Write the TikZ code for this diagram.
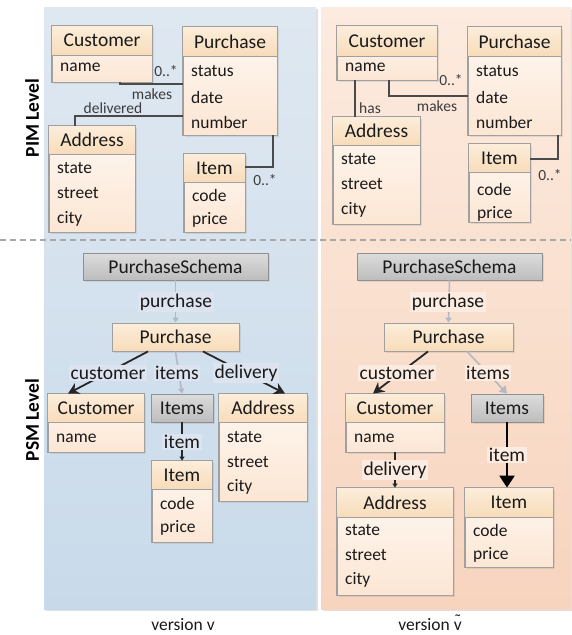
\documentclass[tikz,border=0pt]{standalone}
\usepackage{fontspec}
\setmainfont{Carlito}
\usetikzlibrary{arrows.meta,shadows}
\definecolor{bluetop}{HTML}{DFE8F1}
\definecolor{bluebot}{HTML}{C8DAEA}
\definecolor{orgtop}{HTML}{FCEBDF}
\definecolor{orgbot}{HTML}{F7D4BE}
\definecolor{headtop}{HTML}{FCEDDA}
\definecolor{headbot}{HTML}{F8DCBA}
\definecolor{bodytop}{HTML}{FEF8F2}
\definecolor{bodybot}{HTML}{FCE6D4}
\definecolor{graytop}{HTML}{DCDCDC}
\definecolor{graybot}{HTML}{BDBDBD}
\definecolor{boxline}{HTML}{A0A0A0}
\definecolor{assoccol}{HTML}{4A4A4A}
\definecolor{lightcol}{HTML}{B2B8C4}
\definecolor{lblblue}{HTML}{DDE4EF}
\definecolor{lblorg}{HTML}{FCEBE0}
\definecolor{dashcol}{HTML}{A8A8A8}
\definecolor{txt}{HTML}{1A1A1A}
\newcommand\tildev{{\ooalign{v\cr\hidewidth\raisebox{0.28em}{\char"02DC}\hidewidth\cr}}}
\tikzset{
  boxbase/.style={draw=boxline, line width=0.9pt, top color=bodytop, bottom color=bodybot,
    inner sep=0pt, drop shadow={opacity=0.18, shadow xshift=1.5pt, shadow yshift=-1.5pt}},
  orgbox/.style={draw=boxline, line width=0.9pt, top color=headtop, bottom color=headbot,
    inner sep=0pt, text=txt, font=\fontsize{19.5}{22}\selectfont,
    drop shadow={opacity=0.18, shadow xshift=1.5pt, shadow yshift=-1.5pt}},
  graybox/.style={draw=boxline!90!black, line width=0.9pt, top color=graytop, bottom color=graybot,
    inner sep=0pt, text=txt, font=\fontsize{19.5}{22}\selectfont,
    drop shadow={opacity=0.18, shadow xshift=1.5pt, shadow yshift=-1.5pt}},
  boxedge/.style={draw=boxline, line width=0.9pt},
  titletext/.style={inner sep=0pt, text=txt, font=\fontsize{19.5}{22}\selectfont},
  attrtext/.style={anchor=west, inner sep=0pt, text=txt, font=\fontsize{17.5}{20}\selectfont},
  pimlbl/.style={inner sep=0pt, text=txt!85, font=\fontsize{15.5}{18}\selectfont},
  psmlbl/.style={inner sep=1.5pt, fill=#1, text=txt, font=\fontsize{19.5}{22}\selectfont},
  assoc/.style={draw=assoccol, line width=1.8pt},
  lightedge/.style={draw=lightcol, line width=1.6pt, -{Triangle[length=5pt,width=6pt]}},
  lightedgeB/.style={draw=lightcol, line width=1.6pt, -{Triangle[length=7pt,width=9pt]}},
  bigedge/.style={draw=black!85, line width=1.8pt, -{Stealth[length=11pt,width=12pt]}},
  smalledge/.style={draw=black!85, line width=1.6pt, -{Triangle[length=4pt,width=5pt]}},
  heavyedge/.style={draw=black, line width=2.6pt, -{Triangle[length=12pt,width=15pt]}},
  levellbl/.style={rotate=90, inner sep=0pt, text=black, font=\bfseries\fontsize{19.5}{22}\selectfont},
  verlbl/.style={inner sep=0pt, text=txt, font=\fontsize{17.5}{20}\selectfont},
}
\newcommand\umlclass[7]{%
  \node[boxbase, minimum width={(#4)-(#2)}, minimum height={(#5)-(#3)}] (#1) at ({((#2)+(#4))/2},{((#3)+(#5))/2}) {};
  \shade[top color=headtop, bottom color=headbot] (#2,#3) rectangle (#4,#6);
  \draw[boxedge] (#2,#6) -- (#4,#6);
  \draw[boxedge] (#1.north west) rectangle (#1.south east);
  \node[titletext] (#1T) at ({((#2)+(#4))/2},{((#3)+(#6))/2}) {#7};
}
\newcommand\hdrbox[7]{%
  \node[#6, minimum width={(#4)-(#2)}, minimum height={(#5)-(#3)}] (#1) at ({((#2)+(#4))/2},{((#3)+(#5))/2}) {#7};
}
\begin{document}
\begin{tikzpicture}[x=1pt,y=-1pt]
\useasboundingbox (0,0) rectangle (571,635);
% panels
\fill[black, opacity=0.12] (46,9) rectangle (318,611);
\fill[black, opacity=0.12] (323,9) rectangle (573,611);
\shade[top color=bluetop, bottom color=bluebot] (44,7) rectangle (316,609);
\shade[top color=orgtop, bottom color=orgbot] (321,7) rectangle (571,609);
\draw[dashcol, line width=1.8pt, dash pattern=on 6pt off 4pt] (0,240) -- (571,240);
% level labels
\node[levellbl] (pim) at (32,118) {PIM Level};
\node[levellbl] (psm) at (32,420) {PSM Level};
% ---------- PIM left
\umlclass{lcust}{52}{26}{152}{82}{55}{Customer}
\node[attrtext] (lcust1) at (60,67) {name};
\umlclass{lpur}{183}{27}{277}{135}{56}{Purchase}
\node[attrtext] (lpur1) at (191,71) {status};
\node[attrtext] (lpur2) at (191,97) {date};
\node[attrtext] (lpur3) at (191,122) {number};
\umlclass{laddr}{49}{126}{135}{232}{154}{Address}
\node[attrtext] (laddr1) at (57,168) {state};
\node[attrtext] (laddr2) at (57,193) {street};
\node[attrtext] (laddr3) at (57,219) {city};
\umlclass{litem}{184}{154}{245}{232}{182}{Item}
\node[attrtext] (litem1) at (192,195) {code};
\node[attrtext] (litem2) at (192,220) {price};
\draw[assoc] ([xshift=18pt]lcust.south) |- ([yshift=-3pt]lpur.west);
\draw[assoc] ([yshift=-35pt]lpur.west) -| ([xshift=-17pt]laddr.north);
\draw[assoc] ([xshift=43pt]lpur.south) |- ([yshift=26pt]litem.east);
\node[pimlbl] (lm1) at (166,71) {0..*};
\node[pimlbl] (lm2) at (152,94) {makes};
\node[pimlbl] (lm3) at (113,108) {delivered};
\node[pimlbl] (lm4) at (265,180) {0..*};
% ---------- PIM right
\umlclass{rcust}{337}{26}{437}{80}{56}{Customer}
\node[attrtext] (rcust1) at (345,67) {name};
\umlclass{rpur}{468}{27}{561}{135}{56}{Purchase}
\node[attrtext] (rpur1) at (476,71) {status};
\node[attrtext] (rpur2) at (476,97) {date};
\node[attrtext] (rpur3) at (476,122) {number};
\umlclass{raddr}{333}{117}{420}{224}{145}{Address}
\node[attrtext] (raddr1) at (341,159) {state};
\node[attrtext] (raddr2) at (341,184) {street};
\node[attrtext] (raddr3) at (341,210) {city};
\umlclass{ritem}{469}{144}{530}{222}{172}{Item}
\node[attrtext] (ritem1) at (477,189) {code};
\node[attrtext] (ritem2) at (477,214) {price};
\draw[assoc] ([xshift=2pt]rcust.south) |- ([yshift=-15pt]rpur.west);
\draw[assoc] ([xshift=-32pt]rcust.south) -- ([xshift=-32pt]rcust.south |- raddr.north);
\draw[assoc] ([xshift=43.5pt]rpur.south) |- ([yshift=24pt]ritem.east);
\node[pimlbl] (rm1) at (451,80) {0..*};
\node[pimlbl] (rm2) at (437,106) {makes};
\node[pimlbl] (rm3) at (370,108) {has};
\node[pimlbl] (rm4) at (550,175) {0..*};
% ---------- PSM left
\hdrbox{lsch}{83}{253}{268}{280}{graybox}{PurchaseSchema}
\hdrbox{lppur}{112}{323}{239}{351}{orgbox}{Purchase}
\umlclass{lpcust}{48}{394}{144}{452}{422}{Customer}
\node[attrtext] (lpcust1) at (56,438) {name};
\hdrbox{litems}{151}{394}{213}{422}{graybox}{Items}
\umlclass{lpitem}{152}{461}{212}{542}{489}{Item}
\node[attrtext] (lpitem1) at (160,503) {code};
\node[attrtext] (lpitem2) at (160,528) {price};
\umlclass{lpaddr}{219}{394}{307}{501}{422}{Address}
\node[attrtext] (lpaddr1) at (227,437) {state};
\node[attrtext] (lpaddr2) at (227,462) {street};
\node[attrtext] (lpaddr3) at (227,487) {city};
\draw[lightedge] (lsch.south) -- (lppur.north);
\draw[bigedge] ([xshift=-27.5pt]lppur.south) -- ([xshift=-28pt]lpcust.north);
\draw[lightedge] (lppur.south) -- (litems.north);
\draw[bigedge] ([xshift=27.5pt]lppur.south) -- ([xshift=22pt]lpaddr.north);
\draw[smalledge] (litems.south) -- (lpitem.north);
\node[psmlbl=lblblue] (lp1) at (176,302) {purchase};
\node[psmlbl=lblblue] (lp2) at (108,373) {customer};
\node[psmlbl=lblblue] (lp3) at (177,373) {items};
\node[psmlbl=lblblue] (lp4) at (246,373) {delivery};
\node[psmlbl=lblblue] (lp5) at (182,442) {item};
% ---------- PSM right
\hdrbox{rsch}{357}{253}{542}{280}{graybox}{PurchaseSchema}
\hdrbox{rppur}{384}{323}{513}{351}{orgbox}{Purchase}
\umlclass{rpcust}{346}{394}{444}{452}{422}{Customer}
\node[attrtext] (rpcust1) at (354,438) {name};
\hdrbox{ritems}{471}{394}{543}{422}{graybox}{Items}
\umlclass{rpaddr}{337}{488}{453}{595}{517}{Address}
\node[attrtext] (rpaddr1) at (345,530) {state};
\node[attrtext] (rpaddr2) at (345,555) {street};
\node[attrtext] (rpaddr3) at (345,580) {city};
\umlclass{rpitem}{465}{488}{553}{567}{517}{Item}
\node[attrtext] (rpitem1) at (473,530) {code};
\node[attrtext] (rpitem2) at (473,555) {price};
\draw[lightedge] (rsch.south) -- (rppur.north);
\draw[bigedge] ([xshift=-20.5pt]rppur.south) -- ([xshift=-22pt]rpcust.north);
\draw[lightedgeB] ([xshift=18.5pt]rppur.south) -- (ritems.north);
\draw[smalledge] (rpcust.south) -- (rpaddr.north);
\draw[heavyedge] (ritems.south) -- (ritems.south |- rpitem.north);
\node[psmlbl=lblorg] (rp1) at (448,302) {purchase};
\node[psmlbl=lblorg] (rp2) at (397,373) {customer};
\node[psmlbl=lblorg] (rp3) at (488,373) {items};
\node[psmlbl=lblorg] (rp4) at (395,470) {delivery};
\node[psmlbl=lblorg] (rp5) at (507,455) {item};
% version labels
\node[verlbl] (v1) at (183,625) {version v};
\node[verlbl] (v2) at (430,625) {version \tildev};
\end{tikzpicture}
\end{document}
